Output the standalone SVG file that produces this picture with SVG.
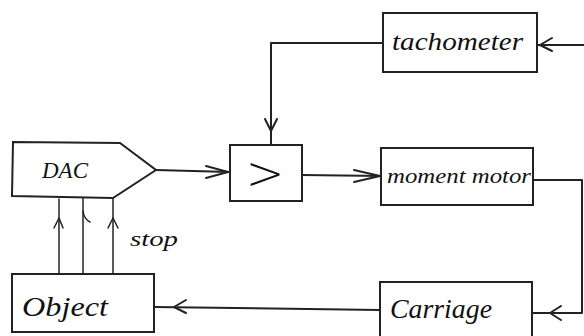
<svg xmlns="http://www.w3.org/2000/svg" width="584" height="336" viewBox="0 0 584 336">
<style>
.box{fill:#fff;stroke:#222;stroke-width:2}
.ln{fill:none;stroke:#222;stroke-width:2;stroke-linejoin:round;stroke-linecap:round}
.thin{fill:none;stroke:#222;stroke-width:1.5;stroke-linecap:round;stroke-linejoin:round}
.hw{font-family:"Liberation Serif","DejaVu Serif",serif;font-style:italic;fill:#111}
</style>
<rect width="584" height="336" fill="#fff"/>
<g id="connectors">
  <path class="ln" d="M584,45 L537,45"/>
  <path class="ln" d="M552,38 L540,45 L552,51"/>
  <path class="ln" d="M383,43 L271,43 L271,145"/>
  <path class="ln" d="M265,119 L271,131 L277,119"/>
  <path class="ln" d="M156,170 L230,172"/>
  <path class="ln" d="M206,166 L228,172 L206,178"/>
  <path class="ln" d="M302,175 L382,176"/>
  <path class="ln" d="M354,170 L380,176 L354,182"/>
  <path class="ln" d="M533,180 L582,180 L582,313 L532,313"/>
  <path class="ln" d="M561,306 L550,313 L561,320"/>
  <path class="ln" d="M380,310 L154,307"/>
  <path class="ln" d="M186,300 L174,307 L186,313"/>
  <path class="thin" d="M59,274 L59,199"/>
  <path class="thin" d="M54,228 L59,218 L63,228"/>
  <path class="thin" d="M83,274 L83,198"/>
  <path class="thin" d="M83,211 Q84,219 90,222"/>
  <path class="thin" d="M113,274 L113,198"/>
  <path class="thin" d="M108,228 L113,218 L118,228"/>
</g>
<g id="dac">
  <path class="box" d="M13,142 L120,143 L156,170 L113,198 L12,196 Z"/>
  <text class="hw" x="42" y="178" font-size="24" textLength="46" lengthAdjust="spacingAndGlyphs">DAC</text>
</g>
<g id="stop-label">
  <text class="hw" x="130" y="246" font-size="22" textLength="48" lengthAdjust="spacingAndGlyphs">stop</text>
</g>
<g id="comparator">
  <rect class="box" x="230" y="145" width="72" height="56"/>
  <text x="265" y="189" font-size="46" text-anchor="middle" font-family="DejaVu Sans, sans-serif" font-weight="300" fill="#111">&gt;</text>
</g>
<g id="tachometer">
  <rect class="box" x="383" y="13" width="154" height="59"/>
  <text class="hw" x="392" y="50" font-size="25" textLength="131" lengthAdjust="spacingAndGlyphs">tachometer</text>
</g>
<g id="moment-motor">
  <rect class="box" x="381" y="148" width="152" height="57"/>
  <text class="hw" x="387" y="183" font-size="20" textLength="144" lengthAdjust="spacingAndGlyphs">moment motor</text>
</g>
<g id="object">
  <rect class="box" x="12" y="274" width="142" height="58"/>
  <text class="hw" x="22" y="316" font-size="27" textLength="86" lengthAdjust="spacingAndGlyphs">Object</text>
</g>
<g id="carriage">
  <rect class="box" x="380" y="282" width="152" height="60"/>
  <text class="hw" x="390" y="318" font-size="27" textLength="102" lengthAdjust="spacingAndGlyphs">Carriage</text>
</g>
</svg>
